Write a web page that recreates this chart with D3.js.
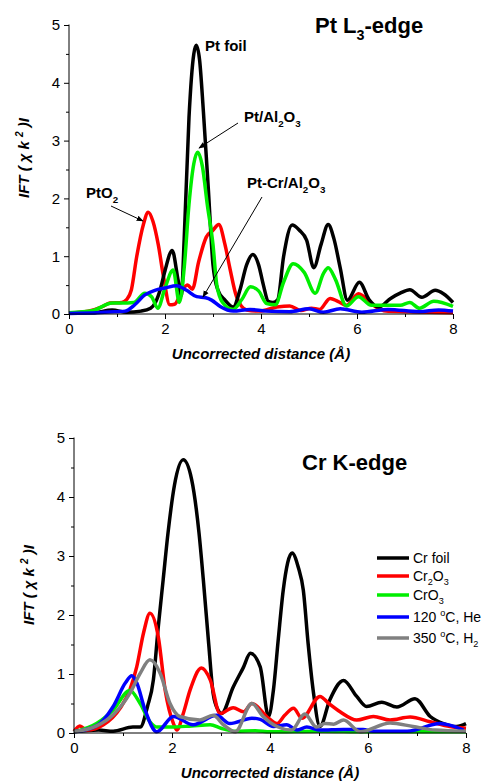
<!DOCTYPE html>
<html>
<head>
<meta charset="utf-8">
<script src="https://cdn.jsdelivr.net/npm/d3@7"></script>
<style>
  body { margin: 0; background: #fff; }
  svg text { font-family: Arial, "Liberation Sans", sans-serif; fill: #000; }
</style>
</head>
<body>
<div id="chart"></div>
<script>
// ---- Pt L3-edge data (R in Å, |FT| value) ----
var ptFoil = [[0,0.02],[0.5,0.02],[0.9,0.07],[1.2,0.03],[1.5,0.05],[1.7,0.1],[1.8,0.2],[1.9,0.42],[2.0,0.75],[2.15,1.1],[2.27,0.6],[2.34,0.32],[2.4,1.3],[2.5,3.4],[2.6,4.5],[2.65,4.65],[2.72,4.4],[2.8,3.5],[2.9,2.2],[3.0,0.85],[3.1,0.42],[3.25,0.24],[3.42,0.12],[3.56,0.41],[3.7,0.85],[3.83,1.03],[3.95,0.85],[4.05,0.5],[4.15,0.22],[4.25,0.2],[4.35,0.25],[4.47,0.99],[4.65,1.54],[4.8,1.45],[4.95,1.28],[5.1,0.8],[5.25,1.2],[5.4,1.55],[5.52,1.3],[5.65,0.8],[5.8,0.24],[6.05,0.55],[6.25,0.25],[6.45,0.12],[6.7,0.27],[6.9,0.36],[7.1,0.42],[7.35,0.29],[7.63,0.41],[7.8,0.35],[8,0.2]];
var ptAl = [[0,0.02],[0.5,0.06],[0.9,0.19],[1.1,0.19],[1.35,0.2],[1.58,0.36],[1.72,0.3],[1.85,0.1],[2.0,0.45],[2.17,0.76],[2.3,0.2],[2.4,0.8],[2.5,1.9],[2.6,2.6],[2.68,2.8],[2.78,2.55],[2.88,1.9],[3.0,1.2],[3.08,0.5],[3.2,0.2],[3.42,0.08],[3.6,0.25],[3.78,0.47],[3.95,0.4],[4.12,0.18],[4.3,0.16],[4.47,0.55],[4.67,0.87],[4.9,0.72],[5.13,0.36],[5.3,0.7],[5.4,0.8],[5.55,0.6],[5.78,0.14],[6.03,0.3],[6.3,0.15],[6.6,0.15],[6.9,0.15],[7.1,0.2],[7.3,0.1],[7.6,0.22],[8,0.13]];
var ptO2 = [[0,0.02],[0.4,0.05],[0.7,0.13],[0.85,0.19],[1.1,0.2],[1.2,0.25],[1.3,0.42],[1.41,0.99],[1.55,1.55],[1.65,1.76],[1.75,1.6],[1.86,1.2],[1.97,0.64],[2.1,0.16],[2.2,0.17],[2.38,0.44],[2.47,0.5],[2.57,0.43],[2.7,0.9],[2.86,1.33],[3.0,1.45],[3.12,1.55],[3.25,1.2],[3.35,0.8],[3.49,0.3],[3.7,0.07],[3.96,0.05],[4.33,0.12],[4.6,0.14],[4.83,0.06],[5.05,0.1],[5.22,0.08],[5.44,0.27],[5.6,0.22],[5.78,0.15],[6.03,0.35],[6.34,0.15],[6.6,0.05],[7,0.04],[8,0.02]];
var ptCrAl = [[0,0.01],[0.6,0.02],[1.0,0.04],[1.17,0.05],[1.37,0.16],[1.58,0.33],[1.79,0.41],[2.0,0.45],[2.24,0.49],[2.45,0.41],[2.66,0.3],[2.85,0.28],[2.97,0.24],[3.15,0.13],[3.42,0.05],[3.77,0.08],[4.1,0.05],[4.6,0.04],[5.0,0.09],[5.3,0.03],[5.65,0.09],[6.1,0.03],[6.65,0.08],[7.3,0.04],[7.7,0.07],[8,0.05]];

// ---- Cr K-edge data ----
var crFoil = [[0,0.02],[0.5,0.05],[0.8,0.03],[1.2,0.1],[1.35,0.1],[1.5,0.45],[1.62,0.9],[1.72,1.8],[1.82,2.6],[1.92,3.4],[2.05,4.2],[2.23,4.63],[2.4,4.3],[2.55,3.4],[2.64,2.59],[2.75,1.5],[2.84,0.67],[2.94,0.39],[3.01,0.33],[3.25,0.78],[3.45,1.1],[3.6,1.35],[3.8,1.12],[3.97,0.28],[4.07,0.73],[4.17,1.6],[4.27,2.42],[4.45,3.05],[4.58,2.8],[4.68,2.42],[4.78,1.5],[4.88,0.73],[5.02,0.11],[5.22,0.56],[5.5,0.89],[5.77,0.62],[5.97,0.45],[6.28,0.52],[6.59,0.44],[6.96,0.58],[7.27,0.28],[7.54,0.16],[7.81,0.11],[8,0.16]];
var cr2o3 = [[0,0.03],[0.12,0.12],[0.26,0.05],[0.6,0.14],[0.94,0.42],[1.14,0.73],[1.28,1.12],[1.42,1.7],[1.55,2.03],[1.72,1.63],[1.86,0.73],[2.03,0.16],[2.1,0.05],[2.23,0.33],[2.37,0.73],[2.6,1.1],[2.78,0.9],[2.98,0.33],[3.25,0.43],[3.46,0.36],[3.63,0.5],[3.97,0.25],[4.14,0.16],[4.3,0.3],[4.48,0.42],[4.65,0.25],[5.02,0.62],[5.2,0.5],[5.43,0.36],[5.77,0.22],[6.11,0.28],[6.45,0.22],[6.86,0.27],[7.27,0.19],[7.67,0.11],[8,0.08]];
var cro3 = [[0,0.02],[0.46,0.16],[0.8,0.39],[1.14,0.72],[1.35,0.5],[1.55,0.19],[1.7,0.1],[1.97,0.1],[2.4,0.12],[2.78,0.14],[3.0,0.08],[3.3,0.03],[3.7,0.04],[4.0,0.02],[5.0,0.03],[6.0,0.02],[7.0,0.02],[8,0.02]];
var he120 = [[0,0.02],[0.46,0.12],[0.8,0.45],[1.05,0.85],[1.18,0.97],[1.28,0.85],[1.45,0.39],[1.69,0.02],[2.03,0.28],[2.43,0.14],[2.91,0.3],[3.18,0.16],[3.63,0.25],[3.8,0.23],[4.07,0.11],[4.34,0.14],[4.55,0.05],[4.75,0.1],[5.02,0.05],[5.5,0.06],[5.9,0.06],[6.1,0.03],[6.8,0.03],[7.47,0.16],[7.95,0.05]];
var h350 = [[0,0.02],[0.46,0.12],[0.8,0.31],[1.14,0.67],[1.35,1.01],[1.55,1.24],[1.76,1.01],[1.96,0.5],[2.16,0.28],[2.57,0.22],[2.84,0.3],[3.05,0.14],[3.29,0.02],[3.63,0.5],[3.86,0.28],[4.14,0.11],[4.44,0.05],[4.71,0.32],[4.95,0.1],[5.12,0.16],[5.3,0.15],[5.5,0.22],[5.84,0.02],[6.45,0.17],[6.92,0.11],[7.37,0.05],[8,0.03]];

var xTicks = [0, 2, 4, 6, 8];
var yTicks = [0, 1, 2, 3, 4, 5];

var svgWidth = 484;
var svgHeight = 784;

var svg = d3.select("#chart")
  .append("svg")
  .attr("width", svgWidth)
  .attr("height", svgHeight);

svg.append("defs").append("marker")
  .attr("id", "arrow")
  .attr("viewBox", "0 0 10 10")
  .attr("refX", 9)
  .attr("refY", 5)
  .attr("markerWidth", 7)
  .attr("markerHeight", 7)
  .attr("markerUnits", "userSpaceOnUse")
  .attr("orient", "auto")
  .append("path")
  .attr("d", "M0,1 L10,5 L0,9 z")
  .attr("fill", "#000");

function drawPanel(box, series) {
  var x = d3.scaleLinear().domain([0, 8]).range([box.left, box.right]);
  var y = d3.scaleLinear().domain([0, 5]).range([box.bottom, box.top]);

  var g = svg.append("g");

  var line = d3.line()
    .x(d => x(d[0]))
    .y(d => y(d[1]))
    .curve(d3.curveMonotoneX);

  series.forEach(function(s) {
    g.append("path")
      .datum(s.data)
      .attr("fill", "none")
      .attr("stroke", s.color)
      .attr("stroke-width", 3.5)
      .attr("stroke-linejoin", "round")
      .attr("d", line);
  });

  // minor ticks
  g.append("g")
    .attr("transform", `translate(${box.left},0)`)
    .call(d3.axisLeft(y).tickValues(d3.range(0.5, 5, 1)).tickSize(3).tickFormat(""))
    .call(a => a.select(".domain").remove());
  g.append("g")
    .attr("transform", `translate(0,${box.bottom})`)
    .call(d3.axisBottom(x).tickValues([1, 3, 5, 7]).tickSize(3).tickFormat(""))
    .call(a => a.select(".domain").remove());

  var leftAxis = d3.axisLeft(y).tickValues(yTicks).tickSize(5).tickPadding(4).tickFormat(d3.format("d"));
  var bottomAxis = d3.axisBottom(x).tickValues(xTicks).tickSize(5).tickPadding(4).tickFormat(d3.format("d"));

  g.append("g")
    .attr("transform", `translate(${box.left},0)`)
    .call(leftAxis)
    .call(a => a.select(".domain").attr("d", `M0,${box.bottom}V${box.top - 0.5}`));
  g.append("g")
    .attr("transform", `translate(0,${box.bottom})`)
    .call(bottomAxis)
    .call(a => a.select(".domain").attr("d", `M${box.left},0H${box.right}`));

  g.selectAll(".tick text")
    .style("font-family", "Arial, 'Liberation Sans', sans-serif")
    .style("font-size", "15px");

  // axis titles
  g.append("text")
    .attr("x", (box.left + box.right) / 2)
    .attr("y", box.bottom + 45)
    .attr("text-anchor", "middle")
    .style("font-size", "15px")
    .style("font-weight", "bold")
    .style("font-style", "italic")
    .text("Uncorrected distance (Å)");

  var yl = g.append("text")
    .attr("transform", `translate(${box.left - 40},${box.ylab}) rotate(-90)`)
    .attr("text-anchor", "middle")
    .style("font-size", "15px")
    .style("font-weight", "bold")
    .style("font-style", "italic");
  yl.append("tspan").text("IFT ( χ k ");
  yl.append("tspan").attr("dy", -6).style("font-size", "10px").text("2");
  yl.append("tspan").attr("dy", 6).text(" )I");

  return {x: x, y: y, g: g};
}

// ---- top panel ----
var topPanel = drawPanel({left: 69, right: 453, top: 25, bottom: 314, ylab: 158}, [
  {data: ptO2, color: "#ff0000"},
  {data: ptFoil, color: "#000000"},
  {data: ptAl, color: "#00ee00"},
  {data: ptCrAl, color: "#0000ff"}
]);

function subText(g, x, y, size, parts) {
  var t = g.append("text")
    .attr("x", x).attr("y", y)
    .style("font-size", size + "px")
    .style("font-weight", "bold");
  var shift = 0;
  parts.forEach(function(p) {
    var dy = 0;
    var fs = size;
    if (p.sub) { dy = size * 0.3 - shift; shift = size * 0.3; fs = size * 0.65; }
    else if (p.sup) { dy = -size * 0.4 - shift; shift = -size * 0.4; fs = size * 0.65; }
    else { dy = -shift; shift = 0; }
    t.append("tspan").attr("dy", dy).style("font-size", fs + "px").text(p.t);
  });
  return t;
}

subText(topPanel.g, 315, 33, 22, [{t: "Pt L"}, {t: "3", sub: true}, {t: "-edge"}]);
subText(topPanel.g, 205, 51, 15, [{t: "Pt foil"}]);
subText(topPanel.g, 244, 122, 15, [{t: "Pt/Al"}, {t: "2", sub: true}, {t: "O"}, {t: "3", sub: true}]);
subText(topPanel.g, 86, 198, 15, [{t: "PtO"}, {t: "2", sub: true}]);
subText(topPanel.g, 247, 188, 15, [{t: "Pt-Cr/Al"}, {t: "2", sub: true}, {t: "O"}, {t: "3", sub: true}]);

var arrows = [
  [238, 123, 199, 148],
  [111, 206, 143, 221],
  [262, 197, 203, 297]
];
arrows.forEach(function(a) {
  topPanel.g.append("line")
    .attr("x1", a[0]).attr("y1", a[1])
    .attr("x2", a[2]).attr("y2", a[3])
    .attr("stroke", "#000")
    .attr("stroke-width", 1)
    .attr("marker-end", "url(#arrow)");
});

// ---- bottom panel ----
var bottomPanel = drawPanel({left: 74, right: 466, top: 438, bottom: 733, ylab: 585}, [
  {data: crFoil, color: "#000000"},
  {data: cr2o3, color: "#ff0000"},
  {data: cro3, color: "#00ee00"},
  {data: he120, color: "#0000ff"},
  {data: h350, color: "#808080"}
]);

subText(bottomPanel.g, 302, 470, 22, [{t: "Cr K-edge"}]);

var legendItems = [
  {color: "#000000", y: 558, parts: [{t: "Cr foil"}]},
  {color: "#ff0000", y: 576, parts: [{t: "Cr"}, {t: "2", sub: true}, {t: "O"}, {t: "3", sub: true}]},
  {color: "#00ee00", y: 595, parts: [{t: "CrO"}, {t: "3", sub: true}]},
  {color: "#0000ff", y: 617, parts: [{t: "120 "}, {t: "o", sup: true}, {t: "C, He"}]},
  {color: "#808080", y: 638, parts: [{t: "350 "}, {t: "o", sup: true}, {t: "C, H"}, {t: "2", sub: true}]}
];

legendItems.forEach(function(item) {
  bottomPanel.g.append("line")
    .attr("x1", 377).attr("x2", 409)
    .attr("y1", item.y).attr("y2", item.y)
    .attr("stroke", item.color)
    .attr("stroke-width", 3.5);
  var t = subText(bottomPanel.g, 413, item.y + 5, 14, item.parts);
  t.style("font-weight", "normal");
});
</script>
</body>
</html>
